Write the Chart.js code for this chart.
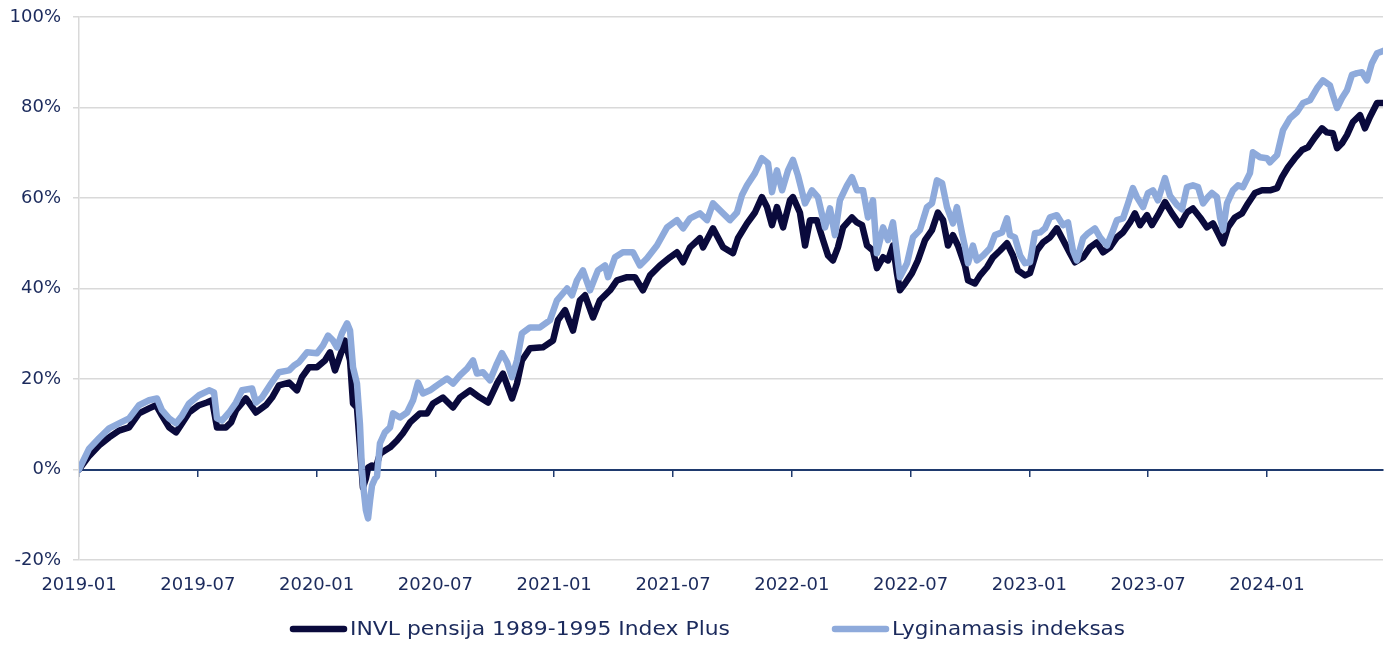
<!DOCTYPE html>
<html>
<head>
<meta charset="utf-8">
<script src="https://cdn.jsdelivr.net/npm/chart.js@4.4.1/dist/chart.umd.min.js"></script>
<style>
  html, body { margin: 0; padding: 0; background: #fff; }
  #wrap { width: 1389px; height: 646px; }
</style>
</head>
<body>
<div id="wrap"><canvas id="c" width="1389" height="646"></canvas></div>
<script>
// ------- Data (months since 2019-01, cumulative return %) -------
const xTickLabels = ['2019-01', '2019-07', '2020-01', '2020-07', '2021-01', '2021-07',
  '2022-01', '2022-07', '2023-01', '2023-07', '2024-01'];
const lastMonth = 65.86;

const fundLabel = 'INVL pensija 1989-1995 Index Plus';
const fundMonths = [
  0, 0.51, 1.01, 1.52, 2.02, 2.53, 3.03, 3.54, 3.89, 4.19,
  4.55, 4.90, 5.20, 5.56, 6.06, 6.46, 6.72, 6.97, 7.42, 7.68,
  7.93, 8.43, 8.94, 9.44, 9.75, 10.10, 10.61, 11.01, 11.26, 11.62,
  12.02, 12.42, 12.68, 12.93, 13.28, 13.43, 13.69, 13.84, 14.04, 14.19,
  14.34, 14.49, 14.60, 14.80, 15.00, 15.20, 15.45, 15.71, 16.06, 16.36,
  16.72, 17.22, 17.58, 17.88, 18.38, 18.89, 19.24, 19.75, 20.25, 20.66,
  21.11, 21.41, 21.87, 22.12, 22.37, 22.78, 23.43, 23.94, 24.19, 24.55,
  24.95, 25.30, 25.56, 25.96, 26.31, 26.82, 27.17, 27.68, 28.08, 28.48,
  28.84, 29.34, 29.85, 30.20, 30.51, 30.86, 31.36, 31.52, 32.02, 32.53,
  33.03, 33.28, 33.74, 34.14, 34.49, 34.75, 35.00, 35.25, 35.56, 35.91,
  36.06, 36.41, 36.67, 36.92, 37.27, 37.58, 37.83, 38.08, 38.33, 38.59,
  39.04, 39.29, 39.55, 39.80, 40.10, 40.30, 40.61, 40.86, 41.11, 41.31,
  41.46, 41.72, 42.07, 42.37, 42.73, 43.08, 43.38, 43.64, 43.89, 44.14,
  44.39, 44.75, 44.90, 45.25, 45.51, 45.86, 46.16, 46.52, 46.87, 47.17,
  47.42, 47.78, 48.03, 48.38, 48.69, 49.04, 49.39, 49.70, 50.05, 50.30,
  50.71, 51.06, 51.41, 51.72, 52.07, 52.42, 52.73, 53.08, 53.33, 53.59,
  53.94, 54.19, 54.49, 54.85, 55.20, 55.61, 55.96, 56.26, 56.62, 56.97,
  57.27, 57.53, 57.78, 58.03, 58.38, 58.74, 59.04, 59.39, 59.75, 60.15,
  60.51, 60.76, 61.06, 61.41, 61.77, 62.07, 62.42, 62.78, 63.03, 63.33,
  63.54, 63.79, 64.04, 64.34, 64.70, 64.95, 65.20, 65.56, 65.86
];
const fundValues = [
  0, 3.0, 5.3, 7.1, 8.6, 9.3, 12.4, 13.5, 14.2, 11.9,
  9.3, 8.2, 10.2, 12.6, 14.2, 14.8, 15.3, 9.3, 9.3, 10.4,
  13.1, 15.7, 12.6, 14.2, 15.9, 18.6, 19.2, 17.5, 20.4, 22.6,
  22.6, 24.1, 25.9, 21.9, 26.3, 28.5, 24.1, 14.6, 13.7, 5.0,
  -4.0, -2.0, 0.4, 0.9, 0.5, 3.5, 4.2, 4.9, 6.4, 8.0,
  10.4, 12.4, 12.4, 14.6, 15.9, 13.7, 15.9, 17.5, 15.9, 14.8,
  19.0, 21.2, 15.7, 19.0, 24.1, 26.8, 27.0, 28.5, 33.0, 35.2,
  30.7, 37.4, 38.5, 33.6, 37.4, 39.6, 41.8, 42.5, 42.5, 39.6,
  42.9, 45.1, 46.9, 48.0, 45.8, 49.1, 51.1, 49.1, 53.3, 49.1,
  47.8, 51.1, 54.4, 56.8, 60.2, 58.0, 54.0, 58.0, 53.5, 59.5,
  60.2, 56.8, 49.5, 55.1, 55.1, 50.7, 47.3, 46.2, 49.1, 53.5,
  55.7, 54.6, 54.0, 49.5, 48.4, 44.5, 46.9, 46.2, 49.5, 43.4,
  39.6, 41.1, 43.4, 46.2, 50.7, 52.9, 56.8, 55.1, 49.5, 51.8,
  49.5, 45.0, 41.8, 41.1, 42.9, 44.7, 46.9, 48.4, 50.0, 47.3,
  44.0, 42.9, 43.4, 48.4, 50.2, 51.3, 53.3, 50.7, 47.8, 45.8,
  46.9, 49.1, 50.2, 48.0, 49.1, 51.3, 52.4, 54.6, 56.6, 54.0,
  56.2, 54.0, 56.2, 59.1, 56.6, 54.0, 56.8, 57.7, 55.7, 53.5,
  54.4, 52.2, 50.0, 53.5, 55.7, 56.6, 58.8, 61.1, 61.7, 61.7,
  62.2, 64.6, 66.8, 68.8, 70.6, 71.2, 73.4, 75.4, 74.5, 74.3,
  71.0, 72.1, 73.9, 76.8, 78.3, 75.4, 77.9, 81.0, 81.0
];

const indexLabel = 'Lyginamasis indeksas';
const indexMonths = [
  0, 0.51, 1.01, 1.52, 2.02, 2.53, 3.03, 3.54, 3.94, 4.19,
  4.55, 4.90, 5.20, 5.56, 6.06, 6.57, 6.82, 6.97, 7.22, 7.58,
  7.93, 8.23, 8.74, 8.94, 9.24, 9.70, 10.10, 10.61, 10.86, 11.11,
  11.52, 12.02, 12.32, 12.58, 12.83, 13.03, 13.28, 13.54, 13.69, 13.84,
  14.04, 14.19, 14.29, 14.39, 14.49, 14.60, 14.70, 14.80, 14.95, 15.05,
  15.20, 15.45, 15.71, 15.86, 16.21, 16.57, 16.87, 17.12, 17.37, 17.73,
  18.08, 18.59, 18.89, 19.24, 19.60, 19.90, 20.10, 20.40, 20.76, 21.11,
  21.36, 21.62, 21.87, 22.12, 22.37, 22.78, 23.28, 23.79, 24.14, 24.65,
  24.90, 25.15, 25.45, 25.81, 26.21, 26.57, 26.72, 27.07, 27.47, 27.98,
  28.33, 28.69, 29.19, 29.70, 30.20, 30.51, 30.86, 31.36, 31.72, 32.02,
  32.53, 32.88, 33.23, 33.48, 33.74, 34.14, 34.49, 34.80, 35.00, 35.25,
  35.51, 35.81, 36.06, 36.31, 36.67, 37.02, 37.32, 37.68, 37.93, 38.18,
  38.43, 38.79, 39.04, 39.29, 39.60, 39.85, 40.10, 40.30, 40.61, 40.86,
  41.11, 41.31, 41.46, 41.82, 42.12, 42.47, 42.83, 43.08, 43.33, 43.59,
  43.84, 44.14, 44.34, 44.60, 44.75, 44.90, 45.15, 45.35, 45.66, 46.01,
  46.26, 46.62, 46.87, 47.02, 47.27, 47.53, 47.78, 48.03, 48.28, 48.54,
  48.79, 49.04, 49.39, 49.70, 49.95, 50.20, 50.40, 50.71, 50.96, 51.31,
  51.57, 51.92, 52.17, 52.42, 52.73, 52.98, 53.23, 53.43, 53.74, 53.99,
  54.24, 54.49, 54.85, 55.10, 55.45, 55.71, 55.96, 56.26, 56.52, 56.77,
  57.02, 57.22, 57.47, 57.63, 57.78, 57.98, 58.28, 58.54, 58.79, 59.14,
  59.29, 59.65, 60.00, 60.15, 60.51, 60.81, 61.16, 61.52, 61.82, 62.17,
  62.53, 62.83, 63.18, 63.33, 63.54, 63.79, 64.04, 64.29, 64.55, 64.80,
  65.05, 65.30, 65.56, 65.86
];
const indexValues = [
  0, 4.6, 6.9, 9.1, 10.2, 11.3, 14.2, 15.3, 15.7, 13.1,
  11.3, 10.2, 11.9, 14.6, 16.4, 17.5, 17.0, 11.3, 10.8, 12.6,
  14.8, 17.5, 17.9, 14.8, 15.9, 19.0, 21.5, 21.9, 23.0, 23.7,
  25.9, 25.7, 27.4, 29.6, 28.5, 27.0, 30.1, 32.3, 30.7, 22.6,
  19.0, 10.0, 0.0, -5.0, -9.0, -10.8, -6.9, -3.5, -2.0, -1.5,
  5.8, 8.2, 9.3, 12.4, 11.5, 12.6, 15.3, 19.2, 16.8, 17.5,
  18.6, 20.1, 19.0, 20.8, 22.3, 24.1, 21.2, 21.5, 19.7, 23.4,
  25.7, 23.7, 20.4, 24.1, 30.1, 31.4, 31.4, 33.0, 37.4, 40.0,
  38.5, 41.8, 44.0, 39.6, 44.0, 45.1, 42.5, 46.9, 48.0, 48.0,
  45.1, 46.7, 49.5, 53.5, 55.1, 53.3, 55.5, 56.6, 55.1, 58.8,
  56.6, 55.1, 56.8, 60.6, 62.8, 65.5, 68.8, 67.7, 61.3, 66.1,
  61.7, 66.1, 68.4, 65.0, 58.8, 61.7, 60.2, 53.5, 57.7, 51.8,
  59.5, 62.8, 64.6, 61.7, 61.7, 55.7, 59.5, 47.8, 53.5, 50.7,
  54.6, 47.8, 42.5, 45.6, 51.3, 52.9, 58.0, 58.8, 63.9, 63.3,
  58.0, 54.4, 58.0, 52.2, 49.1, 45.6, 49.5, 46.2, 47.3, 48.9,
  51.8, 52.4, 55.5, 51.8, 51.3, 47.3, 45.6, 45.8, 52.2, 52.4,
  53.3, 55.7, 56.2, 54.0, 54.6, 48.4, 46.2, 51.1, 52.2, 53.3,
  51.3, 49.5, 52.2, 55.1, 55.5, 58.8, 62.2, 60.2, 58.0, 61.1,
  61.7, 59.5, 64.4, 60.5, 58.5, 57.5, 62.4, 62.8, 62.4, 58.8,
  60.2, 61.1, 60.2, 55.7, 52.9, 58.8, 61.7, 62.8, 62.4, 65.5,
  70.1, 69.0, 68.8, 67.9, 69.5, 75.0, 77.6, 79.0, 81.0, 81.6,
  84.3, 86.0, 84.9, 82.7, 79.9, 82.1, 83.8, 87.2, 87.6, 87.8,
  86.0, 89.8, 92.0, 92.5
];

// ------- Helpers -------
const NAVY = '#0a0a3c';
const LIGHT = '#8eaadb';
const TEXT = '#1b2a5c';
const GRID = '#d9d9d9';

function toPoints(xs, ys) {
  const n = Math.min(xs.length, ys.length);
  const out = [];
  for (let i = 0; i < n; i++) out.push({ x: xs[i], y: ys[i] });
  return out;
}

// legend drawn under the plot (wide gap between items, text stretched like the original)
const lineLegend = {
  id: 'lineLegend',
  afterDraw(chart, args, opts) {
    const { ctx } = chart;
    ctx.save();
    ctx.font = opts.font;
    ctx.textBaseline = 'middle';
    ctx.textAlign = 'left';
    chart.data.datasets.forEach((ds, i) => {
      const x = opts.x[i];
      ctx.strokeStyle = ds.borderColor;
      ctx.lineWidth = ds.borderWidth;
      ctx.lineCap = 'round';
      ctx.beginPath();
      ctx.moveTo(x, opts.y);
      ctx.lineTo(x + opts.lineLen, opts.y);
      ctx.stroke();
      const tx = x + opts.lineLen + opts.gap;
      const sx = opts.textWidth[i] / ctx.measureText(ds.label).width;
      ctx.save();
      ctx.translate(tx, opts.y + 1);
      ctx.scale(sx, 1);
      ctx.fillStyle = opts.color;
      ctx.fillText(ds.label, 0, 0);
      ctx.restore();
    });
    ctx.restore();
  }
};

const tickFont = { family: 'DejaVu Sans', size: 18 };

new Chart(document.getElementById('c'), {
  type: 'line',
  data: {
    datasets: [
      { label: fundLabel, data: toPoints(fundMonths, fundValues), borderColor: NAVY,
        borderWidth: 6.5, order: 1 },
      { label: indexLabel, data: toPoints(indexMonths, indexValues), borderColor: LIGHT,
        borderWidth: 6.5, order: 0 }
    ]
  },
  options: {
    responsive: false, animation: false, devicePixelRatio: 1,
    layout: { padding: { left: 0, right: 6, top: 17, bottom: 50 } },
    elements: {
      point: { radius: 0 },
      line: { tension: 0, borderCapStyle: 'round', borderJoinStyle: 'round', fill: false }
    },
    plugins: {
      legend: { display: false },
      tooltip: { enabled: false },
      lineLegend: { x: [293, 835], y: 629, lineLen: 51, gap: 6, color: TEXT,
        textWidth: [380, 233], font: '19px "DejaVu Sans"' }
    },
    scales: {
      x: {
        type: 'linear', position: 'bottom', min: 0, max: lastMonth,
        grid: { display: false, drawTicks: false },
        border: { display: false },
        ticks: { stepSize: 6, includeBounds: false, autoSkip: false, maxRotation: 0,
          padding: 15, color: TEXT, font: tickFont,
          callback: (v, i) => xTickLabels[i] },
        afterFit: s => { s.height = 36; }
      },
      x0: {
        type: 'linear', axis: 'x', position: { y: 0 }, min: 0, max: lastMonth,
        grid: { drawOnChartArea: false, drawTicks: true, tickLength: 6, color: '#1f3a6e', lineWidth: 1.5 },
        border: { display: true, color: '#1f3a6e', width: 2 },
        ticks: { display: false, stepSize: 6, includeBounds: false }
      },
      y: {
        min: -20, max: 100,
        grid: { color: GRID, lineWidth: 1.5, tickLength: 6 },
        border: { color: GRID, width: 1.5 },
        ticks: { stepSize: 20, padding: 12, color: TEXT, font: tickFont,
          callback: v => v + '%' },
        afterFit: s => { s.width = 79; s.paddingTop = 0; s.paddingBottom = 0; }
      }
    }
  },
  plugins: [lineLegend]
});
</script>
</body>
</html>
